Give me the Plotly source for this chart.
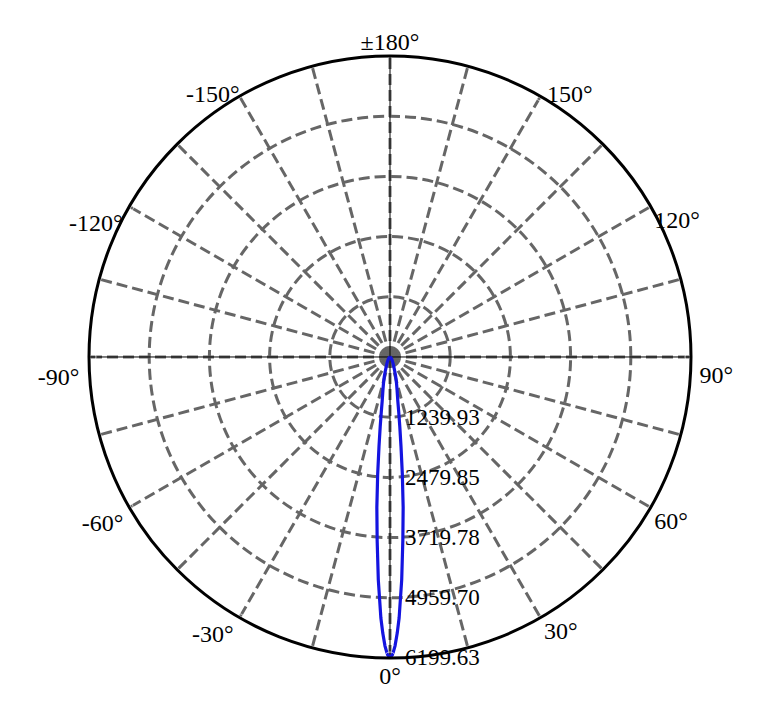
import plotly.graph_objects as go

# Luminous intensity distribution (cd) vs angle (deg)
angles = [-180, -90, -60, -50, -40, -30, -25, -20, -18, -16, -14, -12, -10, -9, -8, -7, -6, -5, -4, -3, -2, -1.5, -1, -0.5,
          0, 0.5, 1, 1.5, 2, 3, 4, 5, 6, 7, 8, 9, 10, 12, 14, 16, 18, 20, 25, 30, 40, 50, 60, 90, 180]
intensity = [0, 0, 5, 20, 50, 100, 150, 250, 330, 430, 552, 700, 930, 1150, 1450, 1860, 2430, 3110, 3790, 4600, 5380, 5690, 5950, 6130,
             6199.63, 6130, 5950, 5690, 5380, 4600, 3790, 3110, 2430, 1860, 1450, 1150, 930, 700, 552, 430, 330, 250, 150, 100, 50, 20, 5, 0, 0]

radial_ticks = [1239.93, 2479.85, 3719.78, 4959.70, 6199.63]
radial_labels = ["1239.93", "2479.85", "3719.78", "4959.70", "6199.63"]

grid_angles = [0, 15, 30, 45, 60, 75, 90, 105, 120, 135, 150, 165, 180,
               195, 210, 225, 240, 255, 270, 285, 300, 315, 330, 345]
label_angles = [0, 30, 60, 90, 120, 150, 180, 210, 240, 270, 300, 330]
angle_labels = ["0°", "30°", "60°", "90°", "120°", "150°",
                "±180°", "-150°", "-120°", "-90°", "-60°", "-30°"]
label_positions = ["bottom center", "bottom right", "bottom right", "bottom right", "bottom right", "middle right",
                   "top center", "middle left", "bottom left", "bottom left", "bottom left", "bottom left"]
label_pad = [12, 4, 4, 12, 4, 9, 0, 0, 9, 14, 8, 8]  # invisible marker sizes -> text offset from rim

rmax = radial_ticks[-1]
font = dict(family="Liberation Serif", size=24, color="black")
grid_dash = "11px,5px"

fig = go.Figure()
# thin black axis cross
fig.add_trace(go.Scatterpolar(r=[rmax, 0, rmax], theta=[0, 0, 180], mode="lines",
                              line=dict(color="black", width=1), hoverinfo="skip", showlegend=False))
fig.add_trace(go.Scatterpolar(r=[rmax, 0, rmax], theta=[90, 90, 270], mode="lines",
                              line=dict(color="black", width=1), hoverinfo="skip", showlegend=False))
fig.add_trace(go.Scatterpolar(r=intensity, theta=angles, mode="lines",
                              line=dict(color="#1414e0", width=3.2), showlegend=False))
# angular labels
fig.add_trace(go.Scatterpolar(r=[rmax] * len(label_angles), theta=label_angles, mode="markers+text",
                              marker=dict(size=label_pad, color="rgba(0,0,0,0)"),
                              text=angle_labels, textposition=label_positions, textfont=font,
                              cliponaxis=False, hoverinfo="skip", showlegend=False))

fig.update_layout(
    width=765, height=713,
    margin=dict(l=0, r=0, t=0, b=0),
    paper_bgcolor="white",
    font=font,
    polar=dict(
        domain=dict(x=[0.1059, 0.8928], y=[0.0884, 0.9327]),
        bgcolor="white",
        angularaxis=dict(
            rotation=-90, direction="counterclockwise",
            tickmode="array", tickvals=grid_angles, showticklabels=False,
            ticks="", showline=True, linecolor="black", linewidth=3,
            showgrid=True, gridcolor="#666666", gridwidth=3.3, griddash=grid_dash,
        ),
        radialaxis=dict(
            range=[0, rmax], angle=-90, tickangle=-90, side="counterclockwise",
            tickmode="array", tickvals=radial_ticks, ticktext=radial_labels,
            showline=False, ticks="outside", ticklen=10, tickcolor="rgba(0,0,0,0)",
            showgrid=True, gridcolor="#666666", gridwidth=3.3, griddash=grid_dash,
            tickfont=dict(family="Liberation Serif", size=23, color="black"),
        ),
    ),
)

fig.write_html("out.html")
